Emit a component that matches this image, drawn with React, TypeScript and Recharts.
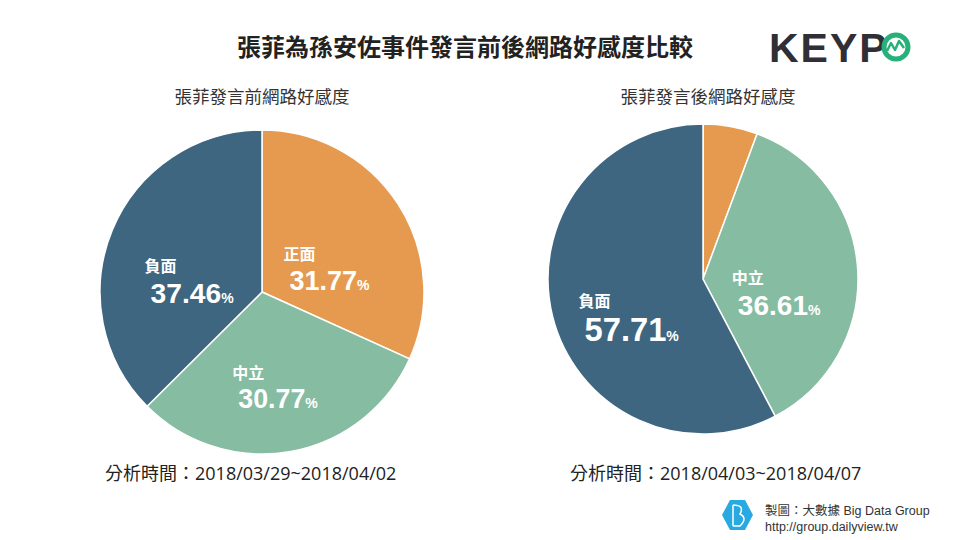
import React from "react";
import { PieChart, Pie, Cell } from "recharts";

const categories = ["正面", "中立", "負面"];
const beforeValues = [31.77, 30.77, 37.46];
const afterValues = [5.68, 36.61, 57.71];
const colors = ["#E69A50", "#86BCA2", "#3E6680"];
const mainTitle = "張菲為孫安佐事件發言前後網路好感度比較";
const beforeTitle = "張菲發言前網路好感度";
const afterTitle = "張菲發言後網路好感度";
const beforePeriod = "分析時間：2018/03/29~2018/04/02";
const afterPeriod = "分析時間：2018/04/03~2018/04/07";
const creditLine1 = "製圖：大數據 Big Data Group";
const creditLine2 = "http://group.dailyview.tw";

const beforeData = categories.map((name, i) => ({ name, value: beforeValues[i] }));
const afterData = categories.map((name, i) => ({ name, value: afterValues[i] }));

const RAD = Math.PI / 180;
const NUM_FONT = "'Liberation Sans', Arial, 'Noto Sans CJK TC', sans-serif";
const CJK_FONT = "'Noto Sans CJK TC', 'Liberation Sans', sans-serif";

const renderLabel = (props: any) => {
  const { cx, cy, midAngle, outerRadius, name, value } = props;
  if (value < 10) return null;
  const r = outerRadius * 0.48;
  const x = cx + r * Math.cos(-midAngle * RAD);
  const y = cy + r * Math.sin(-midAngle * RAD) + 18;
  const fs = Math.max(26, 20 + value * 0.22);
  const numW = fs * 2.95;
  const numLeft = x - numW / 2 + 2;
  const nameBase = y - 8;
  const numBase = nameBase + 0.7 * fs + 11;
  return (
    <g>
      <text x={numLeft - 6} y={nameBase} fill="#fff" fontSize={16} fontWeight="bold" fontFamily={CJK_FONT} textAnchor="start">
        {name}
      </text>
      <text x={numLeft} y={numBase} fill="#fff" fontWeight="bold" fontFamily={NUM_FONT} textAnchor="start">
        <tspan fontSize={fs}>{value.toFixed(2)}</tspan>
        <tspan fontSize={14}>%</tspan>
      </text>
    </g>
  );
};

export default function App() {
  return (
    <div style={{ position: "absolute", left: 0, top: 0, width: 960, height: 540, background: "#fff" }}>
      <PieChart width={960} height={540} margin={{ top: 0, right: 0, bottom: 0, left: 0 }}>
        <Pie
          data={beforeData}
          dataKey="value"
          nameKey="name"
          cx={262}
          cy={292}
          outerRadius={162}
          startAngle={90}
          endAngle={-270}
          stroke="#fff"
          strokeWidth={1.5}
          label={renderLabel}
          labelLine={false}
          isAnimationActive={false}
        >
          {beforeData.map((d, i) => (
            <Cell key={d.name} fill={colors[i]} />
          ))}
        </Pie>
        <Pie
          data={afterData}
          dataKey="value"
          nameKey="name"
          cx={703}
          cy={279}
          outerRadius={155}
          startAngle={90}
          endAngle={-270}
          stroke="#fff"
          strokeWidth={1.5}
          label={renderLabel}
          labelLine={false}
          isAnimationActive={false}
        >
          {afterData.map((d, i) => (
            <Cell key={d.name} fill={colors[i]} />
          ))}
        </Pie>
      </PieChart>
      <svg
        width={960}
        height={540}
        style={{ position: "absolute", left: 0, top: 0, pointerEvents: "none" }}
      >
        <text x={465} y={56} textAnchor="middle" fontSize={24} fontWeight="bold" fill="#222" fontFamily={CJK_FONT}>
          {mainTitle}
        </text>
        <text x={262} y={103} textAnchor="middle" fontSize={17.5} fill="#333" fontFamily={CJK_FONT}>
          {beforeTitle}
        </text>
        <text x={708} y={103} textAnchor="middle" fontSize={17.5} fill="#333" fontFamily={CJK_FONT}>
          {afterTitle}
        </text>
        <text x={105} y={480} textAnchor="start" fontSize={18} fill="#222" fontFamily={"'Open Sans', 'Noto Sans CJK TC', sans-serif"}>
          {beforePeriod}
        </text>
        <text x={570} y={480} textAnchor="start" fontSize={18} fill="#222" fontFamily={"'Open Sans', 'Noto Sans CJK TC', sans-serif"}>
          {afterPeriod}
        </text>
        {/* KEYPO logo */}
        <text x={769} y={62} fontSize={41} fontWeight="bold" fill="#2f2f35" fontFamily={NUM_FONT} letterSpacing={2}>
          KEYP
        </text>
        <circle cx={896} cy={47} r={12} fill="none" stroke="#27B07A" strokeWidth={5} />
        <polyline points="887,51 891,43 895,50 899,41 904,48" fill="none" stroke="#27B07A" strokeWidth={2.5} strokeLinejoin="round" />
        {/* credit */}
        <polygon points="722,515 730,500 745,500 753,515 745,530 730,530" fill="#29A9E1" />
        <path d="M733,505 L733,526 M733,505 Q745,505 740,514 Q748,518 740,526 L733,526" fill="none" stroke="#fff" strokeWidth={1.5} />
        <text x={765} y={515} fontSize={12.5} fill="#333" fontFamily={"'Liberation Sans', 'Noto Sans CJK TC', sans-serif"}>
          {creditLine1}
        </text>
        <text x={765} y={531} fontSize={12.5} fill="#333" fontFamily={"'Liberation Sans', sans-serif"}>
          {creditLine2}
        </text>
      </svg>
    </div>
  );
}
